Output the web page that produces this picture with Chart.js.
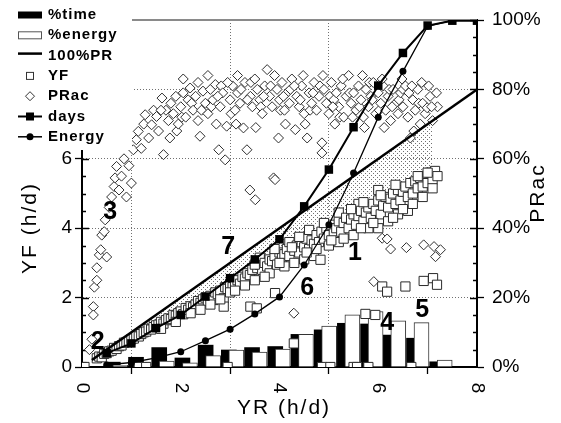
<!DOCTYPE html>
<html>
<head>
<meta charset="utf-8">
<script src="https://cdn.jsdelivr.net/npm/chart.js@4.4.0/dist/chart.umd.min.js"></script>
<style>
  html, body { margin: 0; padding: 0; background: #fff; }
  canvas { display: block; }
</style>
</head>
<body>
<canvas id="chart" width="561" height="423"></canvas>
<script>
"use strict";

// histogram of YR (h/d): share of time and of energy per bin, in %
let binCenters = [0.70, 1.17, 1.64, 2.11, 2.58, 3.05, 3.52, 3.99, 4.46, 4.93, 5.40, 5.87, 6.33, 6.80, 7.27];
let timePct = [1.4, 2.8, 5.6, 2.6, 6.3, 4.9, 5.6, 5.9, 9.4, 10.7, 12.6, 12.4, 9.2, 8.3, 1.5];
let energyPct = [0.5, 0.8, 1.7, 1.2, 3.3, 4.9, 4.3, 5.2, 9.4, 11.8, 15.0, 16.0, 13.3, 12.8, 2.0];

// cumulative curves, in %
let cumYR = [0.5, 1, 1.5, 2, 2.5, 3, 3.5, 4, 4.5, 5, 5.5, 6, 6.5, 7, 7.5, 8];
let daysCum = [4.0, 6.8, 11.2, 15.0, 20.3, 25.6, 31.0, 36.8, 46.3, 56.9, 69.1, 81.1, 90.5, 98.4, 99.8, 99.8];
let energyCum = [0.6, 1.3, 2.6, 4.4, 7.6, 10.9, 15.3, 20.2, 29.4, 41.0, 55.9, 72.0, 85.2, 98.2, 99.9, 100];

// 100%PR line (YF = YR)
let prYR = [0.2, 8];

// shaded gap between 100%PR and the top of the YF cloud
let gapYR = [0.3, 1, 2, 3, 4, 5, 6, 6.5, 7.1];
let gapLow = [0.3, 0.85, 1.7, 2.6, 3.45, 4.3, 4.95, 5.3, 5.7];

// daily YF (h/d) against YR (h/d)
let yfPoints = [
  [0,0],[0.05,0],[1.15,0],[1.3,0],[2.95,0],[4.86,0],[5.03,0],[5.5,0],[5.57,0],[5.8,0],[6.67,0],
  [0.3,0.25],[0.35,0.3],[0.4,0.28],[0.45,0.38],[0.5,0.4],[0.55,0.45],[0.6,0.47],[0.65,0.55],[0.7,0.52],
  [0.75,0.6],[0.8,0.62],[0.85,0.7],[0.9,0.72],[0.95,0.75],[1.0,0.8],[1.05,0.82],[1.1,0.9],[1.15,0.88],
  [1.2,0.95],[1.25,1.0],[1.3,1.02],[1.35,1.1],[1.4,1.08],[1.45,1.15],[1.5,1.2],[1.55,1.22],[1.6,1.3],
  [1.65,1.25],[1.7,1.35],[1.75,1.4],[1.8,1.38],[1.85,1.5],[1.9,1.48],[1.95,1.55],[2.0,1.6],[2.05,1.52],
  [2.1,1.7],[2.15,1.65],[2.2,1.75],[2.25,1.72],[2.3,1.8],[2.35,1.9],[2.4,1.85],[2.45,1.95],[2.5,2.0],
  [2.55,1.9],[2.6,2.05],[2.66,1.93],[2.7,2.15],[2.75,2.1],[2.8,2.2],[2.87,1.98],[2.87,1.74],[2.9,2.3],
  [2.95,2.25],[3.0,2.4],[3.05,2.3],[3.1,2.45],[3.15,2.5],[3.2,2.4],[3.25,2.6],[3.3,2.55],[3.35,2.7],
  [3.41,1.74],[3.4,2.65],[3.45,2.8],[3.5,2.5],[3.54,1.69],[3.55,2.85],[3.6,2.95],[3.6,3.15],[3.65,2.8],
  [3.7,3.0],[3.75,2.9],[3.8,2.7],[3.8,3.1],[3.85,3.05],[3.9,3.2],[3.91,2.13],[3.95,2.95],[4.0,3.3],
  [4.05,3.15],[4.1,2.9],[4.1,3.25],[4.15,3.4],[4.2,3.2],[4.2,3.6],[4.29,0.68],[4.3,3.0],[4.3,3.35],
  [4.35,3.5],[4.4,3.3],[4.45,3.6],[4.5,3.1],[4.5,3.45],[4.55,3.7],[4.6,3.4],[4.6,3.95],[4.65,3.65],
  [4.7,3.2],[4.7,3.55],[4.75,3.8],[4.8,3.6],[4.83,3.09],[4.85,3.9],[4.9,3.7],[4.95,4.0],[5.0,3.5],
  [5.0,3.8],[5.05,4.1],[5.1,3.85],[5.15,4.0],[5.2,3.6],[5.2,4.2],[5.2,4.45],[5.25,3.9],[5.3,4.15],
  [5.35,4.3],[5.4,4.0],[5.45,4.25],[5.5,3.8],[5.5,4.4],[5.55,4.1],[5.6,4.35],[5.6,4.7],[5.65,4.5],
  [5.7,4.2],[5.74,1.53],[5.75,4.45],[5.8,4.0],[5.8,4.6],[5.85,4.3],[5.9,4.7],[5.94,1.5],[5.95,4.5],
  [6.0,4.0],[6.0,4.8],[6.0,5.1],[6.05,4.4],[6.08,2.32],[6.1,4.65],[6.15,4.9],[6.18,2.17],[6.2,4.2],
  [6.2,4.6],[6.25,4.85],[6.3,5.0],[6.35,4.7],[6.4,4.4],[6.4,5.1],[6.45,4.8],[6.5,5.05],[6.55,2.32],
  [6.55,5.2],[6.6,4.5],[6.6,4.9],[6.65,5.3],[6.7,5.0],[6.75,5.35],[6.8,5.15],[6.85,5.45],[6.9,5.2],
  [6.92,2.48],[6.95,5.5],[7.0,5.3],[7.05,5.6],[7.1,5.4],[7.11,2.56],[7.15,5.65],[7.19,2.37],[7.2,5.5],
  [1.6,1.1],[1.9,1.3],[2.2,1.55],[2.4,1.65],[2.6,1.8],[2.8,1.95],[3.0,2.15],[3.1,2.2],[3.3,2.35],
  [3.5,2.95],[3.7,2.6],[3.9,3.4],[4.0,3.0],[4.25,3.45],[4.4,3.75],[4.55,3.3],[4.75,3.4],[4.9,4.15],
  [5.05,3.65],[5.3,3.7],[5.45,4.55],[5.65,4.0],[5.7,4.75],[5.9,4.15],[6.05,4.95],[6.3,4.3],[6.35,5.25],
  [6.5,4.55],[6.7,4.7],[6.8,5.5],[6.9,4.9],[7.0,5.6],[7.1,5.15]
];

// daily PRac (%) against YR (h/d)
let pracPoints = [
  [0,0],[0.05,0],[1.15,0],[1.3,0],[2.95,0],[4.86,0],[5.03,0],[5.5,0],[5.57,0],[5.8,0],[6.67,0],
  [0.15,5],[0.2,8],[0.23,17.4],[0.23,15],[0.25,23],[0.3,25],[0.3,28.6],[0.35,32.3],[0.38,33.8],[0.4,38],
  [0.45,39],[0.47,42.4],[0.5,31.7],[0.55,46],[0.6,49],[0.65,52],[0.67,54.5],[0.7,57.8],[0.75,51],[0.8,55],
  [0.85,60],[0.9,49],[0.95,58],[1.0,53],[1.04,62.6],[1.1,65.5],[1.14,67.9],[1.2,63],[1.25,70],[1.28,72.7],
  [1.35,66],[1.41,69.8],[1.45,74],[1.51,72.2],[1.55,68],[1.62,77.5],[1.65,61.2],[1.7,74],[1.75,71],[1.78,66],
  [1.8,76],[1.85,73],[1.9,78],[1.92,68],[1.95,70],[2.0,75],[2.02,72],[2.05,79],[2.1,72],[2.15,77],
  [2.19,80.4],[2.22,76],[2.25,74],[2.3,78],[2.35,71],[2.39,66.5],[2.42,74],[2.45,79.5],[2.5,76],[2.55,73],
  [2.6,80],[2.62,75],[2.65,77],[2.7,81.4],[2.72,70],[2.77,62.6],[2.8,75],[2.82,81],[2.85,79],[2.9,59.7],
  [2.93,69.4],[3.0,77],[3.02,73],[3.05,81],[3.1,74],[3.12,70],[3.15,79],[3.2,76],[3.22,80],[3.27,68.9],
  [3.3,82],[3.34,62.6],[3.4,51],[3.41,78],[3.42,82],[3.45,75],[3.51,48.2],[3.52,69],[3.55,80],[3.6,77],
  [3.62,75],[3.65,73],[3.7,81],[3.75,85.7],[3.8,78],[3.82,81],[3.85,75],[3.88,54.5],[3.91,54],[3.95,80],
  [3.98,66],[4.0,77],[4.02,74],[4.05,82],[4.1,74],[4.12,70],[4.15,79],[4.2,76],[4.22,80],[4.25,83],
  [4.29,15.5],[4.32,68.4],[4.35,78],[4.4,75],[4.42,77],[4.45,81],[4.5,73],[4.52,70],[4.56,66],[4.6,79],
  [4.62,74],[4.65,76],[4.7,82],[4.75,74],[4.8,78],[4.82,81],[4.86,64.6],[4.86,61.7],[4.9,80],[4.95,76],
  [5.0,73],[5.02,78],[5.05,82],[5.1,77],[5.12,70],[5.15,79],[5.2,75],[5.22,72],[5.25,81],[5.3,72],
  [5.35,78],[5.4,84],[5.42,79],[5.45,76],[5.5,79],[5.55,74],[5.6,81],[5.62,75],[5.65,77],[5.7,72],
  [5.72,69],[5.75,80],[5.8,75],[5.82,82],[5.85,78],[5.9,82],[5.91,24.6],[5.95,73],[6.0,79],[6.02,74],
  [6.05,76],[6.08,37.1],[6.1,81],[6.12,69],[6.15,74],[6.18,36.9],[6.2,78],[6.22,80],[6.25,34],[6.25,71],
  [6.3,80],[6.35,76],[6.4,73],[6.42,77],[6.45,79],[6.5,75],[6.5,80],[6.55,81],[6.57,34.4],[6.6,72],
  [6.62,79],[6.65,66],[6.7,77],[6.72,68],[6.75,74],[6.8,80],[6.82,76],[6.85,70],[6.9,76],[6.92,35.2],
  [6.95,73],[6.99,74.7],[7.02,81],[7.05,78],[7.1,71],[7.13,34.7],[7.16,31.8],[7.2,75],[7.26,33.8],
  [1.6,74],[2.05,83],[2.35,82],[2.55,84],[2.75,78],[2.95,82],[3.15,84],[3.35,77],[3.5,83],[3.68,78],
  [3.9,84],[4.08,78],[4.3,81],[4.48,84],[4.68,79],[4.88,84],[5.08,75],[5.28,83],[5.48,72],[5.68,84],
  [5.88,77],[6.08,83],[6.28,75],[6.48,83],[6.68,81],[6.88,82],[7.08,75],[7.18,79]
];

let xTickValues = [0, 2, 4, 6, 8];

// numbered callouts, placed in YR / YF units
let callouts = [
  { text: "1", yr: 5.53, yf: 3.29 },
  { text: "2", yr: 0.32, yf: 0.72 },
  { text: "3", yr: 0.57, yf: 4.47 },
  { text: "4", yr: 6.18, yf: 1.27 },
  { text: "5", yr: 6.89, yf: 1.64 },
  { text: "6", yr: 4.56, yf: 2.28 },
  { text: "7", yr: 2.96, yf: 3.46 }
];

let legendLabels = ["%time", "%energy", "100%PR", "YF", "PRac", "days", "Energy"];

let FONT = "Arial, 'Liberation Sans', sans-serif";
let BAR_SHIFT = 0.076; // half of the overlap between black and white bars, in YR units

function toXY(pairs) {
  return pairs.map(p => ({ x: p[0], y: p[1] }));
}
function zipXY(xs, ys) {
  return xs.map((x, i) => ({ x: x, y: ys[i] }));
}

let canvasEl = document.getElementById("chart");
let ctxEl = canvasEl.getContext("2d");

// stipple fill
let dotCanvas = document.createElement("canvas");
dotCanvas.width = 4;
dotCanvas.height = 4;
let dotCtx = dotCanvas.getContext("2d");
dotCtx.fillStyle = "#707070";
dotCtx.fillRect(1, 1, 1, 1);
dotCtx.fillRect(3, 3, 1, 1);
let stipple = ctxEl.createPattern(dotCanvas, "repeat");

function gridColor(maxVal) {
  return c => (c.tick && (c.tick.value === 0 || c.tick.value === maxVal)) ? "rgba(0,0,0,0)" : "#707070";
}

let decorPlugin = {
  id: "decor",
  beforeDatasetsDraw(chart) {
    let ctx = chart.ctx;
    let a = chart.chartArea;
    let sy = chart.scales.y;
    let sy2 = chart.scales.y2;
    let sx = chart.scales.x;
    ctx.save();
    // top frame
    ctx.strokeStyle = "#8a8a8a";
    ctx.lineWidth = 2;
    ctx.beginPath();
    ctx.moveTo(a.left, a.top);
    ctx.lineTo(a.right, a.top);
    ctx.stroke();
    // inner tick marks
    ctx.strokeStyle = "#000";
    ctx.lineWidth = 1.3;
    ctx.beginPath();
    for (let v = 0.5; v < 10; v += 0.5) {
      let py = Math.round(sy.getPixelForValue(v)) + 0.5;
      let len = (v % 2 === 0) ? 7 : 4;
      ctx.moveTo(a.left, py);
      ctx.lineTo(a.left + len, py);
    }
    for (let p = 5; p <= 100; p += 5) {
      let py = Math.round(sy2.getPixelForValue(p)) + 0.5;
      let len = (p % 20 === 0) ? 7 : 4;
      ctx.moveTo(a.right, py);
      ctx.lineTo(a.right - len, py);
    }
    for (let i = 1; i < xTickValues.length - 1; i++) {
      let px = Math.round(sx.getPixelForValue(xTickValues[i])) + 0.5;
      ctx.moveTo(px, a.bottom);
      ctx.lineTo(px, a.bottom - 5);
    }
    ctx.stroke();
    ctx.restore();
  },
  afterDraw(chart) {
    let ctx = chart.ctx;
    let a = chart.chartArea;
    let sx = chart.scales.x;
    let sy = chart.scales.y;
    ctx.save();
    ctx.fillStyle = "#000";

    // x tick labels, turned a quarter clockwise
    ctx.font = "19px " + FONT;
    ctx.textAlign = "center";
    ctx.textBaseline = "middle";
    xTickValues.forEach(v => {
      ctx.save();
      ctx.translate(sx.getPixelForValue(v), a.bottom + 21);
      ctx.rotate(Math.PI / 2);
      ctx.fillText(String(v), 0, 0);
      ctx.restore();
    });

    // axis titles
    ctx.font = "21px " + FONT;
    ctx.letterSpacing = "2px";
    ctx.fillText("YR (h/d)", 284, 408);
    ctx.save();
    ctx.translate(30, 228);
    ctx.rotate(-Math.PI / 2);
    ctx.fillText("YF (h/d)", 0, 0);
    ctx.restore();
    ctx.save();
    ctx.translate(538, 193);
    ctx.rotate(-Math.PI / 2);
    ctx.fillText("PRac", 0, 0);
    ctx.restore();
    ctx.letterSpacing = "0px";

    // callouts
    ctx.font = "bold 25px " + FONT;
    callouts.forEach(c => {
      ctx.fillText(c.text, sx.getPixelForValue(c.yr), sy.getPixelForValue(c.yf));
    });

    // legend
    ctx.fillStyle = "#fff";
    ctx.fillRect(0, 0, 132, 150);
    let sx0 = 18, sx1 = 42, mid = 30;
    legendLabels.forEach((label, i) => {
      let cy = 15 + i * 20.3;
      ctx.fillStyle = "#000";
      ctx.strokeStyle = "#000";
      if (label === "%time") {
        ctx.fillRect(sx0, cy - 3.5, sx1 - sx0, 7);
      } else if (label === "%energy") {
        ctx.fillStyle = "#fff";
        ctx.strokeStyle = "#555";
        ctx.lineWidth = 1;
        ctx.fillRect(sx0, cy - 3, sx1 - sx0, 6);
        ctx.strokeRect(sx0 + 0.5, cy - 3.5, sx1 - sx0 - 1, 7);
      } else if (label === "100%PR") {
        ctx.lineWidth = 2.5;
        ctx.beginPath();
        ctx.moveTo(sx0, cy - 2);
        ctx.lineTo(sx1, cy - 2);
        ctx.stroke();
      } else if (label === "YF") {
        ctx.fillStyle = "#fff";
        ctx.strokeStyle = "#333";
        ctx.lineWidth = 1;
        ctx.fillRect(mid - 3.5, cy - 3.5, 7, 7);
        ctx.strokeRect(mid - 3.5, cy - 3.5, 7, 7);
      } else if (label === "PRac") {
        ctx.fillStyle = "#fff";
        ctx.strokeStyle = "#333";
        ctx.lineWidth = 1;
        ctx.beginPath();
        ctx.moveTo(mid, cy - 4.5);
        ctx.lineTo(mid + 4.5, cy);
        ctx.lineTo(mid, cy + 4.5);
        ctx.lineTo(mid - 4.5, cy);
        ctx.closePath();
        ctx.fill();
        ctx.stroke();
      } else if (label === "days") {
        ctx.lineWidth = 2;
        ctx.beginPath();
        ctx.moveTo(sx0, cy);
        ctx.lineTo(sx1, cy);
        ctx.stroke();
        ctx.fillRect(mid - 4, cy - 4, 8, 8);
      } else if (label === "Energy") {
        ctx.lineWidth = 1.5;
        ctx.beginPath();
        ctx.moveTo(sx0, cy);
        ctx.lineTo(sx1, cy);
        ctx.stroke();
        ctx.beginPath();
        ctx.arc(mid, cy, 3.5, 0, Math.PI * 2);
        ctx.fill();
      }
      ctx.fillStyle = "#000";
      ctx.font = "bold 15px " + FONT;
      ctx.letterSpacing = "1px";
      ctx.textAlign = "left";
      ctx.textBaseline = "middle";
      ctx.fillText(label, 48, cy);
      ctx.letterSpacing = "0px";
    });
    ctx.restore();
  }
};

let myChart = new Chart(ctxEl, {
  type: "scatter",
  data: {
    datasets: [
      {
        label: "gapTop",
        type: "line",
        yAxisID: "y",
        data: zipXY(gapYR, gapYR),
        borderWidth: 0,
        pointRadius: 0,
        fill: false,
        order: 9
      },
      {
        label: "gap",
        type: "line",
        yAxisID: "y",
        data: zipXY(gapYR, gapLow),
        borderWidth: 0,
        pointRadius: 0,
        backgroundColor: stipple,
        fill: "-1",
        order: 8
      },
      {
        label: "%time",
        type: "bar",
        yAxisID: "y2",
        data: binCenters.map((c, i) => ({ x: c - BAR_SHIFT, y: timePct[i] })),
        backgroundColor: "#000",
        borderWidth: 0,
        barThickness: 15,
        grouped: false,
        order: 7
      },
      {
        label: "%energy",
        type: "bar",
        yAxisID: "y2",
        data: binCenters.map((c, i) => ({ x: c + BAR_SHIFT, y: energyPct[i] })),
        backgroundColor: "#fff",
        borderColor: "#333",
        borderWidth: 1,
        barThickness: 15,
        grouped: false,
        order: 6
      },
      {
        label: "PRac",
        yAxisID: "y2",
        data: toXY(pracPoints),
        pointStyle: "rectRot",
        pointRadius: 5,
        backgroundColor: "#fff",
        borderColor: "#2e2e2e",
        borderWidth: 1,
        order: 5
      },
      {
        label: "YF",
        yAxisID: "y",
        data: toXY(yfPoints),
        pointStyle: "rect",
        pointRadius: 6.5,
        backgroundColor: "#fff",
        borderColor: "#2a2a2a",
        borderWidth: 1,
        order: 4
      },
      {
        label: "100%PR",
        type: "line",
        yAxisID: "y",
        data: zipXY(prYR, prYR),
        borderColor: "#000",
        borderWidth: 2.5,
        pointRadius: 0,
        fill: false,
        order: 3
      },
      {
        label: "Energy",
        type: "line",
        yAxisID: "y2",
        data: zipXY(cumYR, energyCum),
        borderColor: "#000",
        borderWidth: 1.3,
        pointStyle: "circle",
        pointRadius: 3.5,
        pointBackgroundColor: "#000",
        pointBorderWidth: 0,
        fill: false,
        order: 2
      },
      {
        label: "days",
        type: "line",
        yAxisID: "y2",
        data: zipXY(cumYR, daysCum),
        borderColor: "#000",
        borderWidth: 2,
        pointStyle: "rect",
        pointRadius: 6,
        pointBackgroundColor: "#000",
        pointBorderWidth: 0,
        fill: false,
        order: 1
      }
    ]
  },
  options: {
    responsive: false,
    animation: false,
    events: [],
    layout: { padding: { top: 20, left: 0, right: 0, bottom: 0 } },
    plugins: {
      legend: { display: false },
      tooltip: { enabled: false }
    },
    scales: {
      x: {
        type: "linear",
        position: "bottom",
        min: 0,
        max: 8,
        offset: false,
        ticks: { stepSize: 2, display: false },
        grid: { color: gridColor(8), lineWidth: 1, tickLength: 7, tickColor: "#000", tickWidth: 1.3 },
        border: { color: "#000", width: 2, dash: [1, 2] },
        afterFit: s => { s.height = 56; }
      },
      y: {
        type: "linear",
        position: "left",
        min: 0,
        max: 10,
        ticks: {
          stepSize: 2,
          color: "#000",
          padding: 3,
          font: { family: FONT, size: 19 },
          callback: v => (v === 10 ? "" : v)
        },
        grid: { color: gridColor(10), lineWidth: 1, tickLength: 7, tickColor: "#000", tickWidth: 1.3 },
        border: { color: "#000", width: 2, dash: [1, 2] },
        afterFit: s => { s.width = 82; }
      },
      y2: {
        type: "linear",
        position: "right",
        min: 0,
        max: 100,
        ticks: {
          stepSize: 20,
          color: "#000",
          padding: 8,
          font: { family: FONT, size: 19 },
          callback: v => v + "%"
        },
        grid: { drawOnChartArea: false, tickLength: 7, tickColor: "#000", tickWidth: 1.3 },
        border: { color: "#000", width: 2 },
        afterFit: s => { s.width = 84; }
      }
    }
  },
  plugins: [decorPlugin]
});
</script>
</body>
</html>
